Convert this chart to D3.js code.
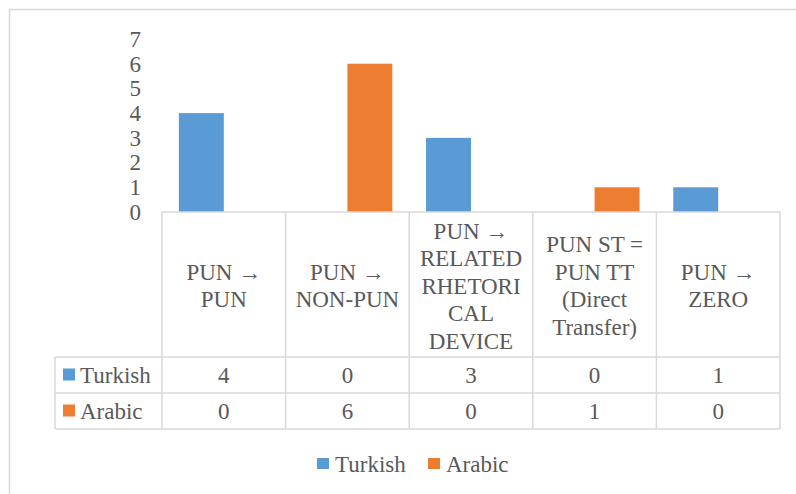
<!DOCTYPE html>
<html>
<head>
<meta charset="utf-8">
<script src="https://cdn.jsdelivr.net/npm/d3@7"></script>
</head>
<body style="margin:0">
<svg id="chart" width="796" height="494" style="font-family:'Liberation Serif', serif"></svg>
<script>
// ---- data ----
const categories = [
  "PUN → PUN",
  "PUN → NON-PUN",
  "PUN → RELATED RHETORICAL DEVICE",
  "PUN ST = PUN TT (Direct Transfer)",
  "PUN → ZERO"
];
const categoryLines = [
  ["PUN →", "PUN"],
  ["PUN →", "NON-PUN"],
  ["PUN →", "RELATED", "RHETORI", "CAL", "DEVICE"],
  ["PUN ST =", "PUN TT", "(Direct", "Transfer)"],
  ["PUN →", "ZERO"]
];
const seriesNames = ["Turkish", "Arabic"];
const turkishValues = [4, 0, 3, 0, 1];
const arabicValues = [0, 6, 0, 1, 0];
const yTicks = [0, 1, 2, 3, 4, 5, 6, 7];
const seriesColors = ["#5b9bd5", "#ed7d31"];

const seriesValues = [turkishValues, arabicValues];

// ---- layout ----
const FONT = '"Liberation Serif", serif';
const svg = d3.select("#chart");
const W = 796, H = 494;
const gridColor = "#d9d9d9";
const textColor = "#595959";
const fontSize = 23;

function styleText(sel) {
  return sel.style("font-family", FONT).style("font-size", fontSize + "px").style("fill", textColor);
}

const plotLeft = 162, plotRight = 780;
const labelColLeft = 55;
const baseY = 212, topY = 39;
const headerBottom = 357, row1Bottom = 393, row2Bottom = 429;

// outer chart border
svg.append("rect")
  .attr("x", 9.5).attr("y", 9.5)
  .attr("width", W + 20).attr("height", H + 20)
  .attr("fill", "none").attr("stroke", gridColor).attr("stroke-width", 1.5);

const x0 = d3.scaleBand().domain(categories).range([plotLeft, plotRight]).padding(0);
const bw = x0.bandwidth();
const barW = bw / 2.75;            // Excel gap width 75%
const gap = bw - 2 * barW;
const x1 = d3.scaleBand().domain(seriesNames).range([gap / 2, bw - gap / 2]).padding(0);
const y = d3.scaleLinear().domain([0, 7]).range([baseY, topY]);

// bars
const barData = [];
categories.forEach((c, i) => {
  seriesNames.forEach((s, j) => {
    barData.push({ cat: c, series: s, value: seriesValues[j][i], color: seriesColors[j] });
  });
});
svg.append("g").selectAll("rect")
  .data(barData.filter(d => d.value > 0))
  .join("rect")
  .attr("x", d => x0(d.cat) + x1(d.series))
  .attr("y", d => y(d.value))
  .attr("width", x1.bandwidth())
  .attr("height", d => y(0) - y(d.value))
  .attr("fill", d => d.color);

// y axis
const yAxis = d3.axisLeft(y).tickValues(yTicks).tickSize(0).tickPadding(21).tickFormat(d3.format("d"));
const yg = svg.append("g").attr("transform", `translate(${plotLeft},0)`).call(yAxis);
yg.select(".domain").remove();
yg.attr("font-family", null).attr("font-size", null);
styleText(yg.selectAll("text")).attr("fill", textColor);

// data table lines
const lines = svg.append("g").attr("stroke", gridColor).attr("stroke-width", 1.5).attr("fill", "none");
lines.append("line").attr("x1", plotLeft).attr("x2", plotRight).attr("y1", baseY).attr("y2", baseY);
[headerBottom, row1Bottom, row2Bottom].forEach(yy => {
  lines.append("line").attr("x1", labelColLeft).attr("x2", plotRight).attr("y1", yy).attr("y2", yy);
});
lines.append("line").attr("x1", labelColLeft).attr("x2", labelColLeft).attr("y1", headerBottom).attr("y2", row2Bottom);
categories.forEach(c => {
  lines.append("line").attr("x1", x0(c)).attr("x2", x0(c)).attr("y1", baseY).attr("y2", row2Bottom);
});
lines.append("line").attr("x1", plotRight).attr("x2", plotRight).attr("y1", baseY).attr("y2", row2Bottom);

// header labels
const lineH = 27.5;
const headerMid = (baseY + headerBottom) / 2 + 1;
categories.forEach((c, i) => {
  const ls = categoryLines[i];
  ls.forEach((l, k) => {
    styleText(svg.append("text")
      .attr("text-anchor", "middle")
      .attr("x", x0(c) + bw / 2)
      .attr("y", headerMid + (k - (ls.length - 1) / 2) * lineH)
      .attr("dy", "0.35em"))
      .text(l);
  });
});

// table rows
const rowTops = [headerBottom, row1Bottom];
const rowH = row1Bottom - headerBottom;
seriesNames.forEach((s, j) => {
  const cy = rowTops[j] + rowH / 2;
  svg.append("rect").attr("x", 63).attr("y", cy - 6.5).attr("width", 12).attr("height", 12)
    .attr("fill", seriesColors[j]);
  styleText(svg.append("text").attr("x", 80).attr("y", cy).attr("dy", "0.35em")).text(s);
  categories.forEach((c, i) => {
    styleText(svg.append("text").attr("x", x0(c) + bw / 2).attr("y", cy).attr("dy", "0.35em")
      .attr("text-anchor", "middle"))
      .text(seriesValues[j][i]);
  });
});

// legend
const legY = 463.5;
const legendX = d3.scaleOrdinal().domain(seriesNames).range([317, 428]);
seriesNames.forEach((s, j) => {
  const lx = legendX(s);
  svg.append("rect").attr("x", lx).attr("y", legY - 5.5).attr("width", 12).attr("height", 11)
    .attr("fill", seriesColors[j]);
  styleText(svg.append("text").attr("x", lx + 18).attr("y", legY).attr("dy", "0.35em")).text(s);
});
</script>
</body>
</html>
